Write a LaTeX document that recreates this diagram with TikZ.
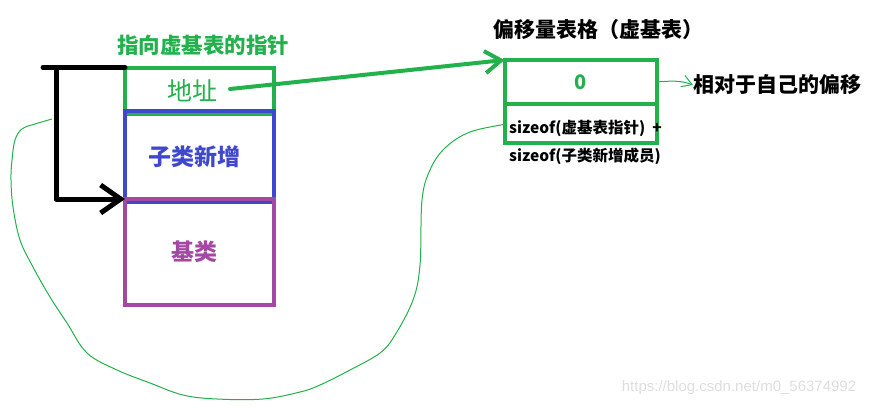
\documentclass[tikz,border=0pt]{standalone}
\usepackage{fontspec}
\setmainfont{Noto Sans CJK SC}
\newfontfamily\wmfont{Liberation Sans}
\usetikzlibrary{arrows.meta}
\definecolor{pgreen}{RGB}{34,177,76}
\definecolor{pblue}{RGB}{63,72,204}
\definecolor{ppurple}{RGB}{163,73,164}
\tikzset{
  x=1pt, y=-1pt,
  box/.style={draw, line width=4pt, outer sep=0pt, minimum width=149pt, inner sep=0pt, font=\bfseries\fontsize{23}{25}\selectfont},
  tbox/.style={draw=pgreen, line width=4pt, outer sep=0pt, minimum width=152pt, inner sep=0pt},
  lbl/.style={inner sep=0pt, font=\bfseries\fontsize{21}{23}\selectfont},
  small/.style={inner sep=0pt, anchor=west, font=\bfseries\fontsize{15.5}{17}\selectfont},
  thick arrow/.style={line width=4pt, line cap=round, line join=round},
  black arrow/.style={line width=5pt, line cap=round, line join=round},
  thin line/.style={pgreen, line width=1pt}
}
\begin{document}
\begin{tikzpicture}
\useasboundingbox (0,0) rectangle (872,407);
% left stack
\node[box, draw=pgreen, minimum height=46pt, font=\fontsize{25}{27}\selectfont, text=pgreen] (addr) at (199.5,90.5) {\hspace*{-14pt}地址};
\node[box, draw=pblue, minimum height=91pt, text=pblue] (sub) at (199.5,156.5) {\hspace*{-10pt}子类新增};
\node[box, draw=ppurple, minimum height=106pt, text=ppurple] (base) at (199.5,252) {\hspace*{-10pt}基类};
\node[lbl, text=pgreen, font=\bfseries\fontsize{21.5}{23}\selectfont] (ptrlbl) at (203,45) {指向虚基表的指针};
% black bracket
\coordinate (bk1) at (43,67.5);
\coordinate (bk2) at (56,67.5);
\draw[black arrow] (bk1) -- (bk1 -| addr.west);
\draw[black arrow, -{Straight Barb[length=20pt,width=28pt]}] (bk2) |- (base.north west);
% right table
\node[lbl, text=black] (ttl) at (598,30) {偏移量表格（虚基表）};
\node[tbox, minimum height=44pt, text=pgreen, font=\bfseries\fontsize{20}{22}\selectfont] (t0) at (580.5,82) {0};
\node[tbox, minimum height=39pt] (t1) at (580.5,123.5) {};
\node[small] (s1) at (509,128) {sizeof(虚基表指针) \ +};
\node[small] (s2) at (509,156) {sizeof(子类新增成员)};
\node[lbl, anchor=west] (rel) at (693,85) {相对于自己的偏移};
% green pointer arrow
\coordinate (pstart) at (230,89);
\draw[thick arrow, pgreen, -{Straight Barb[length=16pt,width=22pt]}] (pstart) -- (t0.north west);
% thin arrow to label
\draw[thin line, -{Straight Barb[length=10pt,width=12pt]}] (t0.east) .. controls (670,81) and (680,80) .. (rel.west);
% thin curve
\coordinate (cstart) at (t1.west);
\coordinate (cend) at (52,119);
\draw[thin line] plot[smooth, tension=0.6] coordinates {
 (507,124) (470,132) (445,148) (430,170) (422,200) (420,265) (413,300)
 (395,335) (380,353) (350,370) (320,385) (300,392) (263,399) (217,399)
 (183,395) (150,383) (117,370) (87,353) (67,323) (50,297) (33,267)
 (20,240) (13,207) (11,180) (12,160) (15,140) (22,129) (35,124) (52,119)};
% watermark
\node[inner sep=0pt, text=black!13, font=\wmfont\fontsize{15}{17}\selectfont] (wm) at (739,388) {https://blog.csdn.net/m0\_56374992};
\end{tikzpicture}
\end{document}
